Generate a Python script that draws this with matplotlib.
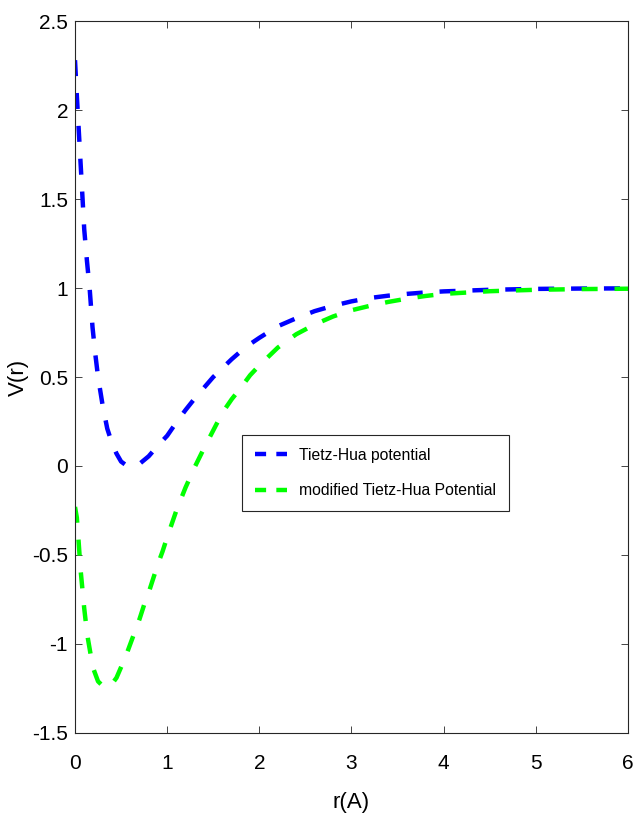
import matplotlib
matplotlib.use("Agg")
import matplotlib.pyplot as plt
from matplotlib.lines import Line2D
from matplotlib.ticker import FuncFormatter

plt.rcParams['font.family'] = ['Liberation Sans Narrow', 'Liberation Sans', 'DejaVu Sans']

# Tietz-Hua potential (blue)
r_th = [0.00, 0.02, 0.05, 0.08, 0.10, 0.13, 0.16, 0.19, 0.22, 0.25, 0.30, 0.35,
        0.40, 0.45, 0.50, 0.55, 0.60, 0.65, 0.70, 0.80, 0.90, 1.00, 1.10, 1.20,
        1.30, 1.40, 1.50, 1.60, 1.70, 1.80, 1.90, 2.00, 2.20, 2.40, 2.60, 2.80,
        3.00, 3.20, 3.40, 3.60, 3.80, 4.00, 4.50, 5.00, 5.50, 6.00]
v_th = [2.28, 2.08, 1.80, 1.52, 1.33, 1.15, 0.99, 0.78, 0.63, 0.50, 0.34, 0.21,
        0.13, 0.07, 0.025, 0.006, 0.0, 0.002, 0.012, 0.055, 0.115, 0.17, 0.245, 0.315,
        0.38, 0.44, 0.50, 0.55, 0.60, 0.645, 0.685, 0.72, 0.785, 0.83, 0.87, 0.90,
        0.925, 0.944, 0.957, 0.967, 0.975, 0.981, 0.99, 0.995, 0.997, 0.998]

# modified Tietz-Hua potential (green)
r_mth = [0.00, 0.02, 0.04, 0.06, 0.08, 0.10, 0.12, 0.14, 0.17, 0.20, 0.25, 0.30,
         0.35, 0.40, 0.45, 0.50, 0.55, 0.60, 0.65, 0.70, 0.75, 0.80, 0.85, 0.90,
         0.95, 1.00, 1.10, 1.20, 1.30, 1.40, 1.50, 1.60, 1.70, 1.80, 1.90, 2.00,
         2.20, 2.40, 2.60, 2.80, 3.00, 3.20, 3.40, 3.60, 3.80, 4.00, 4.50, 5.00,
         5.50, 6.00]
v_mth = [-0.23, -0.29, -0.43, -0.58, -0.69, -0.80, -0.89, -0.97, -1.06, -1.14, -1.21, -1.235,
         -1.245, -1.225, -1.19, -1.13, -1.07, -1.00, -0.93, -0.86, -0.78, -0.71, -0.63, -0.55,
         -0.48, -0.40, -0.25, -0.12, -0.005, 0.10, 0.20, 0.30, 0.375, 0.44, 0.51, 0.565,
         0.665, 0.74, 0.795, 0.84, 0.875, 0.90, 0.922, 0.94, 0.955, 0.967, 0.982, 0.99,
         0.994, 0.996]

labels = ["Tietz-Hua potential", "modified Tietz-Hua Potential"]
colors = ["#0000ff", "#00ff00"]

fig = plt.figure(figsize=(6.34, 8.21), dpi=100)
ax = fig.add_axes([0.1183, 0.1072, 0.8722, 0.8672])

ax.plot(r_th, v_th, color=colors[0], lw=3.2, dashes=(3.6, 3.8), dash_capstyle='butt')
ax.plot(r_mth, v_mth, color=colors[1], lw=3.2, dashes=(3.6, 3.8), dash_capstyle='butt')

ax.set_xlim(0, 6)
ax.set_ylim(-1.5, 2.5)
ax.set_xticks(range(0, 7))
ax.set_yticks([-1.5, -1, -0.5, 0, 0.5, 1, 1.5, 2, 2.5])
ax.yaxis.set_major_formatter(FuncFormatter(lambda v, p: f"{v:g}"))

axcol = "#262626"
for s in ax.spines.values():
    s.set_color(axcol)
    s.set_linewidth(0.8)
ax.tick_params(direction='in', length=5, width=0.6, colors=axcol,
               top=True, right=True, labelsize=15, labelcolor='#000000')
ax.tick_params(axis='x', pad=15)
ax.tick_params(axis='y', pad=5)

ax.set_xlabel("r(A)", fontsize=16)
ax.xaxis.set_label_coords(0.5, -0.083)
ax.set_ylabel("V(r)", fontsize=16, family=['Liberation Sans', 'DejaVu Sans'])
ax.yaxis.set_label_coords(-0.083, 0.5)

handles = [Line2D([], [], color=c, lw=3.2, dashes=(2.5, 2.3), dash_capstyle='butt') for c in colors]
leg = ax.legend(handles, labels, loc='upper left', bbox_to_anchor=(0.3014, 0.4185),
                borderaxespad=0, fontsize=11.3, handlelength=2.05, handletextpad=0.8,
                borderpad=0.82, labelspacing=1.3, fancybox=False, framealpha=1)
leg.get_frame().set_edgecolor(axcol)
leg.get_frame().set_linewidth(0.8)

plt.savefig("out.png", dpi=100)
